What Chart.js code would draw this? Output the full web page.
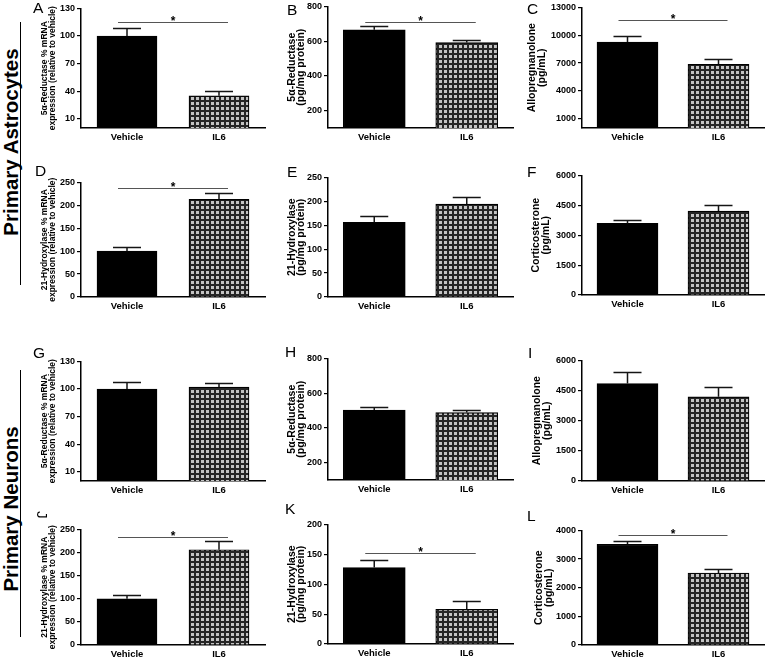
<!DOCTYPE html>
<html>
<head>
<meta charset="utf-8">
<script src="https://cdn.jsdelivr.net/npm/chart.js@4.4.0/dist/chart.umd.min.js"></script>
<style>
  body { margin: 0; background: #fff; width: 766px; height: 658px; position: relative; overflow: hidden;
         font-family: "Liberation Sans", Arial, Helvetica, sans-serif; }
  canvas.panel { position: absolute; }
  .letter { position: absolute; font-size: 15.5px; line-height: 1; color: #000; }
  .side { position: absolute; width: 280px; height: 22px; margin-left: -140px; margin-top: -11px;
          text-align: center; font-weight: bold; font-size: 20.5px; line-height: 22px; white-space: nowrap;
          transform: rotate(-90deg); }
  .rule { position: absolute; width: 1px; background: #000; }
</style>
</head>
<body>
<div class="side" style="left:11px; top:142px;">Primary Astrocytes</div>
<div class="rule" style="left:20px; top:22px; height:263px;"></div>
<div class="side" style="left:11px; top:509px;">Primary Neurons</div>
<div class="rule" style="left:20px; top:370px; height:267px;"></div>

<script>
// categories
const categories = ['Vehicle', 'IL6'];

// Primary astrocytes
const meanA = [100, 35];     const errA = [9, 5.5];     const sigA = 115;
const meanB = [665, 592];    const errB = [23, 16];     const sigB = 712;
const meanC = [9260, 6860];  const errC = [640, 560];   const sigC = 11620;
const meanD = [100, 213];    const errD = [8, 13];      const sigD = 237;
const meanE = [156, 194];    const errE = [14, 14];     const sigE = null;
const meanF = [3590, 4210];  const errF = [160, 330];   const sigF = null;

// Primary neurons
const meanG = [100, 102];    const errG = [7.5, 5];     const sigG = null;
const meanH = [503, 488];    const errH = [17, 13];     const sigH = null;
const meanI = [4850, 4190];  const errI = [575, 490];   const sigI = null;
const meanJ = [100, 206];    const errJ = [8.5, 18];    const sigJ = 234;
const meanK = [128, 58];     const errK = [13, 14.5];   const sigK = 153;
const meanL = [3516, 2513];  const errL = [105, 127];   const sigL = 3850;

// tick labels
const ticksPct = [10, 40, 70, 100, 130];
const ticksReductase = [200, 400, 600, 800];
const ticksAlloAstro = [1000, 4000, 7000, 10000, 13000];
const ticksHydroPct = [0, 50, 100, 150, 200, 250];
const ticksHydro = [0, 50, 100, 150, 200, 250];
const ticks6000 = [0, 1500, 3000, 4500, 6000];
const ticksHydroNeuro = [0, 50, 100, 150, 200];
const ticks4000 = [0, 1000, 2000, 3000, 4000];

const titlePctRed = ['5\u03b1-Reductase % mRNA', 'expression (relative to vehicle)'];
const titlePctHyd = ['21-Hydroxylase % mRNA', 'expression (relative to vehicle)'];
const titleRed = ['5\u03b1-Reductase', '(pg/mg protein)'];
const titleHyd = ['21-Hydroxylase', '(pg/mg protein)'];
const titleAllo = ['Allopregnanolone', '(pg/mL)'];
const titleCort = ['Corticosterone', '(pg/mL)'];

Chart.defaults.font.family = '"Liberation Sans", Arial, Helvetica, sans-serif';
Chart.defaults.color = '#000';
Chart.defaults.animation = false;

// checkered fill for the IL6 bars
function makePattern() {
    const tile = document.createElement('canvas');
    tile.width = 5; tile.height = 5;
    const t = tile.getContext('2d');
    t.fillStyle = '#262626';
    t.fillRect(0, 0, 5, 5);
    t.fillStyle = '#c4c4c4';
    t.fillRect(1, 1, 3, 3);
    return t.createPattern(tile, 'repeat');
}
const checker = makePattern();

// SEM bars (upper only) and significance bracket
const errorBars = {
    id: 'errorBars',
    afterDatasetsDraw(chart, args, opts) {
        const ctx = chart.ctx;
        const y = chart.scales.y;
        const meta = chart.getDatasetMeta(0);
        const values = chart.data.datasets[0].data;
        ctx.save();
        ctx.strokeStyle = '#151515';
        ctx.lineWidth = 1.5;
        meta.data.forEach((bar, i) => {
            const top = Math.round(y.getPixelForValue(values[i] + opts.err[i])) + 0.5;
            ctx.beginPath();
            ctx.moveTo(bar.x, bar.y);
            ctx.lineTo(bar.x, top);
            ctx.moveTo(bar.x - 14, top);
            ctx.lineTo(bar.x + 14, top);
            ctx.stroke();
        });
        if (opts.sig !== null) {
            const yy = Math.round(y.getPixelForValue(opts.sig)) + 0.5;
            const x0 = meta.data[0].x - 9;
            const x1 = meta.data[1].x + 9;
            ctx.strokeStyle = '#555';
            ctx.lineWidth = 1;
            ctx.beginPath();
            ctx.moveTo(x0, yy);
            ctx.lineTo(x1, yy);
            ctx.stroke();
            ctx.fillStyle = '#000';
            ctx.font = 'bold 12px "Liberation Sans", Arial, sans-serif';
            ctx.textAlign = 'center';
            ctx.textBaseline = 'alphabetic';
            ctx.fillText('*', (x0 + x1) / 2, yy + 2);
        }
        ctx.restore();
    }
};

const col1 = { left: 81, right: 265, canvasLeft: 30, barW: 60, titleSize: 8.5, lineH: 1.0, tickSize: 9 };
const col2 = { left: 328, right: 513, canvasLeft: 278, barW: 62, titleSize: 10.5, lineH: 0.86, tickSize: 9 };
const col3 = { left: 582, right: 764, canvasLeft: 520, barW: 61, titleSize: 10.5, lineH: 0.95, tickSize: 9 };

const panels = [
    { letter: 'A', lx: 33, ly: 0,   col: col1, top: 7,   bottom: 128, titleX: 44.5, mean: meanA, err: errA, sig: sigA, min: 0,   max: 130,   ticks: ticksPct,        title: titlePctRed },
    { letter: 'B', lx: 287, ly: 2,  col: col2, top: 5,   bottom: 128, titleX: 292,  mean: meanB, err: errB, sig: sigB, min: 100, max: 800,   ticks: ticksReductase,  title: titleRed },
    { letter: 'C', lx: 527, ly: 1,  col: col3, top: 6,   bottom: 128, titleX: 532,  mean: meanC, err: errC, sig: sigC, min: 0,   max: 13000, ticks: ticksAlloAstro,  title: titleAllo },
    { letter: 'D', lx: 35, ly: 163, col: col1, top: 181, bottom: 297, titleX: 44.5, mean: meanD, err: errD, sig: sigD, min: 0,   max: 250,   ticks: ticksHydroPct,   title: titlePctHyd },
    { letter: 'E', lx: 287, ly: 164, col: col2, top: 176, bottom: 297, titleX: 292, mean: meanE, err: errE, sig: sigE, min: 0,   max: 250,   ticks: ticksHydro,      title: titleHyd },
    { letter: 'F', lx: 527, ly: 164, col: col3, top: 174, bottom: 295, titleX: 536, mean: meanF, err: errF, sig: sigF, min: 0,   max: 6000,  ticks: ticks6000,       title: titleCort },
    { letter: 'G', lx: 33, ly: 345, col: col1, top: 360, bottom: 481, titleX: 44.5, mean: meanG, err: errG, sig: sigG, min: 0,   max: 130,   ticks: ticksPct,        title: titlePctRed },
    { letter: 'H', lx: 285, ly: 344, col: col2, top: 357, bottom: 480, titleX: 292, mean: meanH, err: errH, sig: sigH, min: 100, max: 800,   ticks: ticksReductase,  title: titleRed },
    { letter: 'I', lx: 528, ly: 345, col: col3, top: 359, bottom: 481, titleX: 537, mean: meanI, err: errI, sig: sigI, min: 0,   max: 6000,  ticks: ticks6000,       title: titleAllo },
    { letter: 'J', lx: 38, ly: 507, col: col1, top: 528, bottom: 645, titleX: 44.5, mean: meanJ, err: errJ, sig: sigJ, min: 0,   max: 250,   ticks: ticksHydroPct,   title: titlePctHyd, turned: true },
    { letter: 'K', lx: 285, ly: 501, col: col2, top: 523, bottom: 644, titleX: 292, mean: meanK, err: errK, sig: sigK, min: 0,   max: 200,   ticks: ticksHydroNeuro, title: titleHyd },
    { letter: 'L', lx: 527, ly: 508, col: col3, top: 529, bottom: 645, titleX: 539.5, mean: meanL, err: errL, sig: sigL, min: 0,   max: 4000,  ticks: ticks4000,       title: titleCort }
];

function makePanel(p) {
    const c = p.col;
    const padTop = 6;
    const xh = 20;
    const yw = c.left - c.canvasLeft;
    const canvasTop = p.top - padTop;
    const w = c.right - c.canvasLeft + 2;
    const h = p.bottom - canvasTop + xh;
    const lh = c.titleSize * c.lineH;

    const canvas = document.createElement('canvas');
    canvas.className = 'panel';
    canvas.width = w;
    canvas.height = h;
    canvas.style.left = c.canvasLeft + 'px';
    canvas.style.top = canvasTop + 'px';
    document.body.appendChild(canvas);

    const letter = document.createElement('div');
    letter.className = 'letter';
    letter.textContent = p.letter;
    letter.style.left = p.lx + 'px';
    letter.style.top = p.ly + 'px';
    if (p.turned) letter.style.transform = 'rotate(90deg)';
    document.body.appendChild(letter);

    new Chart(canvas, {
        type: 'bar',
        data: {
            labels: categories,
            datasets: [{
                data: p.mean,
                backgroundColor: ['#000', checker],
                borderColor: '#000',
                borderWidth: 1.2,
                barThickness: c.barW
            }]
        },
        options: {
            responsive: false,
            maintainAspectRatio: false,
            layout: { padding: { top: padTop, right: 2, left: 0, bottom: 0 } },
            plugins: {
                legend: { display: false },
                tooltip: { enabled: false },
                errorBars: { err: p.err, sig: p.sig }
            },
            scales: {
                x: {
                    type: 'category',
                    grid: { display: false, drawTicks: false },
                    border: { display: true, color: '#000', width: 1.5 },
                    ticks: { font: { size: 9.5, weight: 'bold' }, color: '#000', padding: 4, maxRotation: 0, autoSkip: false },
                    afterFit: (scale) => { scale.height = xh; }
                },
                y: {
                    min: p.min,
                    max: p.max,
                    grid: { display: true, drawOnChartArea: false, drawTicks: true, tickLength: 4, color: '#000', lineWidth: 1.2 },
                    border: { display: true, color: '#000', width: 1.5 },
                    ticks: {
                        font: { size: c.tickSize, weight: 'bold' },
                        color: '#000',
                        padding: 2,
                        callback: (value) => String(value)
                    },
                    afterBuildTicks: (scale) => { scale.ticks = p.ticks.map(v => ({ value: v })); },
                    afterFit: (scale) => { scale.width = yw; },
                    title: {
                        display: true,
                        text: p.title,
                        color: '#000',
                        font: { size: c.titleSize, weight: 'bold', lineHeight: c.lineH },
                        padding: { top: p.titleX - c.canvasLeft - lh / 2, bottom: 0 }
                    }
                }
            }
        },
        plugins: [errorBars]
    });
}

panels.forEach(makePanel);
</script>
</body>
</html>
